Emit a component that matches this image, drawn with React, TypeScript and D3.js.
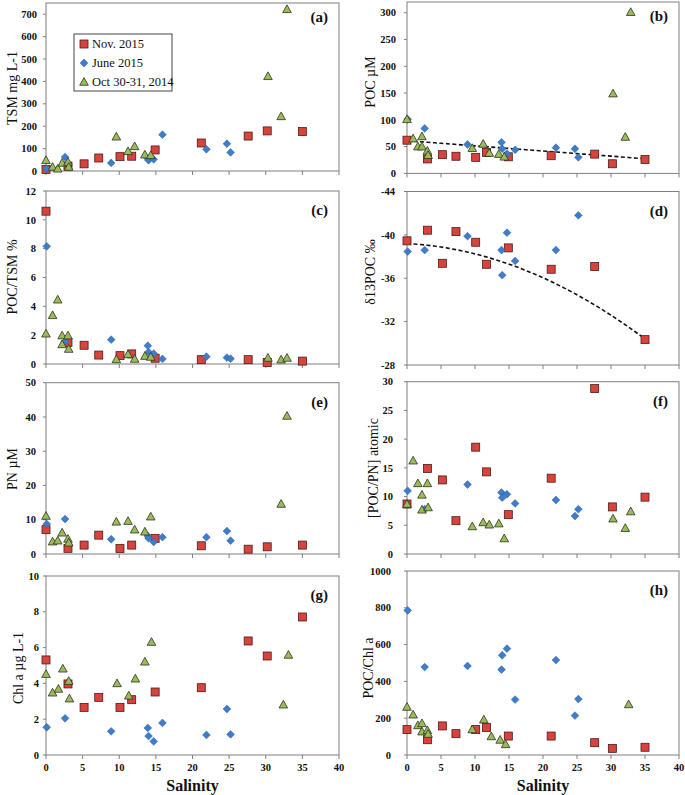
import React from "react";
import * as d3 from "d3";

// ---------- data: [salinity, value] ----------
const NOV_TSM = [[0,7],[3.0,22],[5.2,32],[7.2,58],[10.1,64],[11.7,66],[14.9,94],[21.2,125],[27.6,156],[30.2,179],[35,176]];
const JUNE_TSM = [[0.1,10],[2.6,62],[8.9,36],[13.9,55],[14.0,48],[14.7,52],[15.9,162],[21.9,97],[24.7,122],[25.2,83]];
const OCT_TSM = [[0,48],[0.9,18],[1.6,10],[2.2,36],[3.0,40],[3.1,18],[9.6,153],[11.2,88],[12.1,110],[13.5,73],[14.3,70],[30.3,423],[32.1,244],[32.9,722]];

const NOV_POC = [[0,62],[3.0,27],[5.2,35],[7.2,32],[10.1,30],[11.7,39],[14.9,31],[21.2,33],[27.6,36],[30.2,18],[35,26]];
const JUNE_POC = [[0.1,101],[2.6,84],[8.9,54],[13.9,58],[14.0,46],[14.7,37],[15.9,44],[21.9,48],[24.7,46],[25.2,30]];
const OCT_POC = [[0,101],[0.9,65],[1.6,50],[2.2,69],[2.2,50],[3.0,42],[3.1,34],[9.6,47],[11.2,55],[12.1,38],[13.5,36],[14.3,31],[30.3,149],[32.1,68],[32.9,301]];

const NOV_POCTSM = [[0,10.6],[3.0,1.5],[5.2,1.3],[7.2,0.62],[10.1,0.58],[11.7,0.7],[14.9,0.4],[21.2,0.3],[27.6,0.3],[30.2,0.1],[35,0.2]];
const JUNE_POCTSM = [[0.1,8.16],[2.6,1.55],[8.9,1.69],[13.9,1.27],[14.0,0.83],[14.7,0.72],[15.9,0.35],[21.9,0.51],[24.7,0.44],[25.2,0.37]];
const OCT_POCTSM = [[0,2.1],[0.9,3.38],[1.6,4.46],[2.2,1.97],[2.2,1.36],[3.0,1.97],[3.1,1.04],[9.6,0.32],[11.2,0.67],[12.1,0.35],[13.5,0.55],[14.3,0.49],[30.3,0.42],[32.1,0.3],[32.9,0.42]];

const NOV_D13C = [[0,-39.45],[3.0,-40.43],[5.2,-37.38],[7.2,-40.3],[10.1,-39.32],[11.7,-37.29],[14.9,-38.8],[21.2,-36.83],[27.6,-37.08],[35,-30.34]];
const JUNE_D13C = [[0.1,-38.46],[2.6,-38.6],[8.9,-39.88],[13.9,-38.6],[14.0,-36.28],[14.7,-40.2],[15.9,-37.6],[21.9,-38.6],[25.2,-41.8]];
const OCT_D13C: number[][] = [];

const NOV_PN = [[0,7.1],[3.0,1.65],[5.2,2.6],[7.2,5.5],[10.1,1.6],[11.7,2.6],[14.9,4.5],[21.2,2.4],[27.6,1.4],[30.2,2.1],[35,2.6]];
const JUNE_PN = [[0.1,8.75],[2.6,10.2],[8.9,4.3],[13.9,5.25],[14.0,4.6],[14.7,3.5],[15.9,4.9],[21.9,4.9],[24.7,6.7],[25.2,3.9]];
const OCT_PN = [[0,11.1],[0.9,3.6],[1.6,3.9],[2.2,6.2],[3.0,4.4],[3.1,3.3],[9.6,9.4],[11.2,9.6],[12.1,7.1],[13.5,6.5],[14.3,10.9],[32.1,14.6],[32.9,40.3]];

const NOV_CN = [[0,8.7],[3.0,14.9],[5.2,12.9],[7.2,5.8],[10.1,18.6],[11.7,14.3],[14.9,6.85],[21.2,13.2],[27.6,28.8],[30.2,8.2],[35,9.9]];
const JUNE_CN = [[0.1,11.0],[2.6,7.8],[8.9,12.1],[13.9,10.7],[14.0,9.8],[14.7,10.4],[15.9,8.8],[21.9,9.4],[24.7,6.6],[25.2,7.8]];
const OCT_CN = [[0,8.7],[0.9,16.25],[1.6,12.3],[2.2,10.3],[2.2,7.7],[3.0,12.3],[3.1,8.1],[9.6,4.8],[11.2,5.5],[12.1,5.1],[13.5,5.3],[14.3,2.7],[30.3,6.15],[32.1,4.5],[32.9,7.4]];

const NOV_CHL = [[0,5.31],[3.0,3.97],[5.2,2.66],[7.2,3.22],[10.1,2.66],[11.7,3.09],[14.9,3.52],[21.2,3.76],[27.6,6.37],[30.2,5.53],[35,7.71]];
const JUNE_CHL = [[0.1,1.55],[2.6,2.05],[8.9,1.32],[13.9,1.51],[14.0,1.06],[14.7,0.76],[15.9,1.79],[21.9,1.12],[24.7,2.57],[25.2,1.15]];
const OCT_CHL = [[0,4.52],[0.9,3.48],[1.7,3.69],[2.3,4.82],[3.1,4.13],[3.2,3.15],[9.7,4.0],[11.3,3.31],[12.2,4.26],[13.5,5.21],[14.4,6.31],[32.4,2.81],[33.1,5.59]];

const NOV_POCCHL = [[0,138],[3.0,83],[5.2,158],[7.2,116],[10.1,138],[11.7,149],[14.9,103],[21.2,103],[27.6,67],[30.2,36],[35,42]];
const JUNE_POCCHL = [[0.1,786],[2.6,478],[8.9,484],[13.9,464],[14.0,542],[14.7,578],[15.9,301],[21.9,516],[24.7,214],[25.2,304]];
const OCT_POCCHL = [[0,261],[0.9,219],[1.6,161],[2.2,172],[2.2,127],[3.0,134],[3.1,114],[9.6,139],[11.3,192],[12.4,101],[13.7,82],[14.5,58],[32.6,275]];

// trend lines (fitted coefficients)
const TREND_POC_LINEAR = [61, -0.96]; // a + b*S
const TREND_D13C_QUAD = [-39.2, 0.0331, 0.00624]; // a + b*S + c*S^2

// tick labels
const SAL_TICKS = [0, 5, 10, 15, 20, 25, 30, 35, 40];
const TICKS_TSM = [0, 100, 200, 300, 400, 500, 600, 700];
const TICKS_POC = [0, 50, 100, 150, 200, 250, 300];
const TICKS_POCTSM = [0, 2, 4, 6, 8, 10, 12];
const TICKS_D13C = [-44, -40, -36, -32, -28];
const TICKS_PN = [0, 10, 20, 30, 40, 50];
const TICKS_CN = [0, 5, 10, 15, 20, 25, 30];
const TICKS_CHL = [0, 2, 4, 6, 8, 10];
const TICKS_POCCHL = [0, 200, 400, 600, 800, 1000];

const SERIES_NAMES = ["Nov. 2015", "June 2015", "Oct 30-31, 2014"];

// ---------- styling / layout ----------
const RED = "#D9433E";
const BLUE = "#3D7DCB";
const GREEN = "#9BBB59";
const AXIS = "#7f7f7f";
const FONT = "'Liberation Serif', 'Times New Roman', serif";

const LEFT_X: [number, number] = [46, 339];
const RIGHT_X: [number, number] = [407, 679];

type Panel = {
  id: string;
  xr: [number, number];
  yDomain: [number, number];
  yRange: [number, number];
  ticks: number[];
  label: string;
  labelX: number;
  labelY: number;
  tickLabelX: number;
  nov: number[][];
  june: number[][];
  oct: number[][];
  showX: boolean;
  trend?: "linear" | "quad";
};

const PANELS: Panel[] = [
  { id: "a", xr: LEFT_X, yDomain: [0, 750], yRange: [171, 3], ticks: TICKS_TSM, label: "TSM mg L-1", labelX: 12, labelY: 88, tickLabelX: 37, nov: NOV_TSM, june: JUNE_TSM, oct: OCT_TSM, showX: false },
  { id: "b", xr: RIGHT_X, yDomain: [0, 320], yRange: [173.4, 2], ticks: TICKS_POC, label: "POC µM", labelX: 370, labelY: 82, tickLabelX: 396, nov: NOV_POC, june: JUNE_POC, oct: OCT_POC, showX: false, trend: "linear" },
  { id: "c", xr: LEFT_X, yDomain: [0, 12], yRange: [364, 191], ticks: TICKS_POCTSM, label: "POC/TSM %", labelX: 12, labelY: 277, tickLabelX: 36, nov: NOV_POCTSM, june: JUNE_POCTSM, oct: OCT_POCTSM, showX: false },
  { id: "d", xr: RIGHT_X, yDomain: [-44, -28], yRange: [191.5, 365], ticks: TICKS_D13C, label: "δ13POC ‰", labelX: 370, labelY: 272, tickLabelX: 395, nov: NOV_D13C, june: JUNE_D13C, oct: OCT_D13C, showX: false, trend: "quad" },
  { id: "e", xr: LEFT_X, yDomain: [0, 50], yRange: [554, 382.7], ticks: TICKS_PN, label: "PN µM", labelX: 12, labelY: 469, tickLabelX: 36, nov: NOV_PN, june: JUNE_PN, oct: OCT_PN, showX: false },
  { id: "f", xr: RIGHT_X, yDomain: [0, 30], yRange: [554, 381.7], ticks: TICKS_CN, label: "[POC/PN] atomic", labelX: 373, labelY: 468, tickLabelX: 393, nov: NOV_CN, june: JUNE_CN, oct: OCT_CN, showX: false },
  { id: "g", xr: LEFT_X, yDomain: [0, 10], yRange: [755, 576], ticks: TICKS_CHL, label: "Chl a µg L-1", labelX: 18, labelY: 668, tickLabelX: 39, nov: NOV_CHL, june: JUNE_CHL, oct: OCT_CHL, showX: true },
  { id: "h", xr: RIGHT_X, yDomain: [0, 1000], yRange: [755, 571], ticks: TICKS_POCCHL, label: "POC/Chl a", labelX: 368, labelY: 668, tickLabelX: 391, nov: NOV_POCCHL, june: JUNE_POCCHL, oct: OCT_POCCHL, showX: true },
];

function Square({ x, y }: { x: number; y: number }) {
  return <rect x={x - 4} y={y - 4} width={8} height={8} fill={RED} stroke="#4a1c1a" strokeWidth={0.8} />;
}
function Diamond({ x, y }: { x: number; y: number }) {
  const r = 3.9;
  return <path d={`M${x},${y - r}L${x + r},${y}L${x},${y + r}L${x - r},${y}Z`} fill={BLUE} stroke="#2e5f9e" strokeWidth={0.5} />;
}
function Triangle({ x, y }: { x: number; y: number }) {
  return <path d={`M${x},${y - 4.4}L${x + 4.3},${y + 3.3}L${x - 4.3},${y + 3.3}Z`} fill={GREEN} stroke="#2d3320" strokeWidth={0.8} />;
}

function PanelView({ p }: { p: Panel }) {
  const x = d3.scaleLinear().domain([0, 40]).range(p.xr);
  const y = d3.scaleLinear().domain(p.yDomain).range(p.yRange);
  const top = Math.min(...p.yRange);
  const bottom = Math.max(...p.yRange);
  const left = p.xr[0];
  const right = p.xr[1];
  const xBottom = p.id === "d" ? y(-28) : y(p.yDomain[0]);

  let trendPath: string | null = null;
  if (p.trend) {
    const sVals = d3.range(0, 35.01, 0.5);
    const f = p.trend === "linear"
      ? (s: number) => TREND_POC_LINEAR[0] + TREND_POC_LINEAR[1] * s
      : (s: number) => TREND_D13C_QUAD[0] + TREND_D13C_QUAD[1] * s + TREND_D13C_QUAD[2] * s * s;
    trendPath = d3.line<number>().x((s) => x(s)).y((s) => y(f(s)))(sVals);
  }

  return (
    <g>
      <rect x={left} y={top} width={right - left} height={bottom - top} fill="white" stroke={AXIS} strokeWidth={1} />
      {p.ticks.map((t) => (
        <g key={"yt" + t}>
          <line x1={left - 3} x2={left} y1={y(t)} y2={y(t)} stroke={AXIS} />
          <text x={p.tickLabelX} y={y(t)} dy="0.35em" textAnchor="end" fontFamily={FONT} fontWeight="bold" fontSize={10.5} fill="#111">
            {t}
          </text>
        </g>
      ))}
      {SAL_TICKS.map((t) => (
        <g key={"xt" + t}>
          <line x1={x(t)} x2={x(t)} y1={xBottom} y2={xBottom + 4} stroke={AXIS} />
          {p.showX && (
            <text x={x(t)} y={770.5} textAnchor="middle" fontFamily={FONT} fontWeight="bold" fontSize={10.5} fill="#111">
              {t}
            </text>
          )}
        </g>
      ))}
      {trendPath && <path d={trendPath} fill="none" stroke="#111" strokeWidth={1.6} strokeDasharray="4,2.5" />}
      {p.nov.map((d, i) => <Square key={"n" + i} x={x(d[0])} y={y(d[1])} />)}
      {p.june.map((d, i) => <Diamond key={"j" + i} x={x(d[0])} y={y(d[1])} />)}
      {p.oct.map((d, i) => <Triangle key={"o" + i} x={x(d[0])} y={y(d[1])} />)}
      <text
        transform={`translate(${p.labelX},${p.labelY}) rotate(-90)`}
        textAnchor="middle"
        dominantBaseline="central"
        fontFamily={FONT}
        fontSize={14}
        fill="#111"
      >
        {p.label}
      </text>
      <text x={right - 11} y={top + (p.id === "a" || p.id === "b" ? 19 : 24)} textAnchor="end" fontFamily={FONT} fontWeight="bold" fontSize={15} fill="#111">
        ({p.id})
      </text>
      {p.showX && (
        <text x={(left + right) / 2 + 0} y={791} textAnchor="middle" fontFamily={FONT} fontWeight="bold" fontSize={16} fill="#111">
          Salinity
        </text>
      )}
    </g>
  );
}

function Legend() {
  const ys = [44, 63, 82];
  const markers = [Square, Diamond, Triangle];
  return (
    <g>
      <rect x={74} y={34} width={98} height={57} fill="white" stroke="#444" strokeWidth={1} />
      {SERIES_NAMES.map((n, i) => {
        const M = markers[i];
        return (
          <g key={n}>
            <M x={84} y={ys[i]} />
            <text x={92} y={ys[i]} dy="0.35em" fontFamily={FONT} fontSize={12.5} fill="#111">
              {n}
            </text>
          </g>
        );
      })}
    </g>
  );
}

export default function App() {
  return (
    <svg width={685} height={795} style={{ position: "absolute", left: 0, top: 0, background: "white" }}>
      <rect x={0} y={0} width={685} height={795} fill="white" />
      {PANELS.map((p) => (
        <PanelView key={p.id} p={p} />
      ))}
      <Legend />
    </svg>
  );
}
